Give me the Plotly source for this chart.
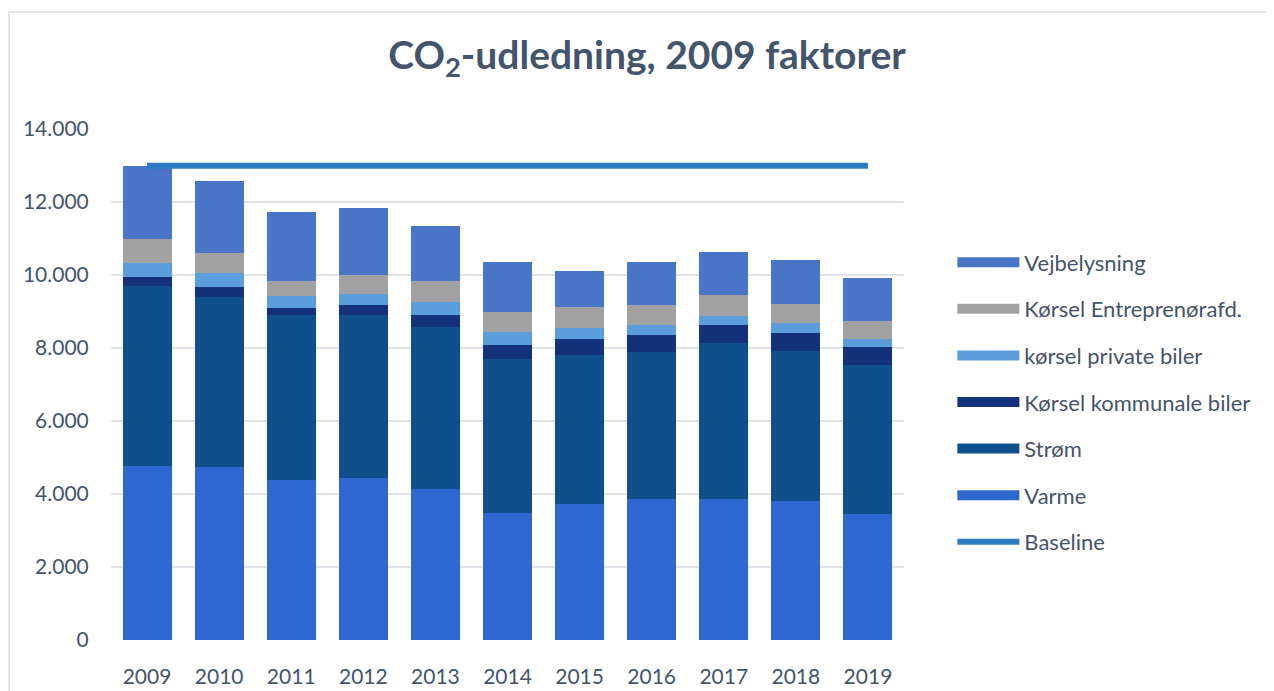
import plotly.graph_objects as go

years = ["2009", "2010", "2011", "2012", "2013", "2014", "2015", "2016", "2017", "2018", "2019"]
varme = [4760, 4740, 4380, 4440, 4140, 3480, 3720, 3860, 3860, 3810, 3450]
strom = [4940, 4660, 4520, 4460, 4440, 4220, 4090, 4030, 4280, 4110, 4080]
kommunale = [250, 270, 190, 280, 330, 380, 440, 470, 490, 490, 490]
private = [380, 380, 330, 300, 360, 360, 300, 270, 250, 270, 220]
entrepr = [660, 550, 410, 520, 570, 550, 580, 550, 570, 520, 490]
vejbelysning = [2000, 1970, 1890, 1840, 1500, 1370, 990, 1180, 1180, 1210, 1180]
baseline = [12990] * 11

series = [
    ("Varme", varme, "#2e67cf", 6),
    ("Strøm", strom, "#0f4f8c", 5),
    ("Kørsel kommunale biler", kommunale, "#13327a", 4),
    ("kørsel private biler", private, "#5c9ddc", 3),
    ("Kørsel Entreprenørafd.", entrepr, "#a2a2a2", 2),
    ("Vejbelysning", vejbelysning, "#4a74c8", 1),
]

font_family = "Lato, 'Open Sans', sans-serif"
text_color = "#44546a"
fig = go.Figure()
for name, vals, color, rank in series:
    fig.add_trace(go.Bar(
        x=years, y=vals, name=name, marker=dict(color=color, line=dict(width=0)),
        legendgroup=name, showlegend=False,
    ))
# legend keys drawn as wide bands, like the reference
for name, vals, color, rank in series:
    fig.add_trace(go.Scatter(
        x=[None], y=[None], name=name, mode="lines",
        line=dict(color=color, width=16), legendrank=rank, legendgroup=name,
        hoverinfo="skip",
    ))
fig.add_trace(go.Scatter(
    x=years, y=baseline, name="Baseline", mode="lines",
    line=dict(color="#2e7bc4", width=6), legendrank=7, legendgroup="Baseline",
))

fig.update_layout(
    barmode="stack",
    bargap=0.32,
    width=1274, height=691,
    separators=",.",
    paper_bgcolor="white", plot_bgcolor="white",
    margin=dict(l=103, r=378, t=121, b=59),
    title=dict(
        text="<b>CO<sub>2</sub>-udledning, 2009 faktorer</b>",
        x=0.5016, xref="container", xanchor="center", y=0.932, yanchor="middle",
        font=dict(family=font_family, size=39, color=text_color),
    ),
    font=dict(family=font_family, size=21, color=text_color),
    legend=dict(
        x=1.061, xanchor="left", y=0.78, yanchor="top",
        font=dict(size=22, color=text_color),
        tracegroupgap=15, itemwidth=62, bgcolor="rgba(0,0,0,0)",
    ),
    xaxis=dict(
        showgrid=False, showline=False, ticks="outside", ticklen=18,
        tickcolor="rgba(0,0,0,0)", tickfont=dict(size=21, color=text_color),
        automargin=False,
    ),
    yaxis=dict(
        range=[0, 14000], dtick=2000, tickformat=",d",
        showgrid=True, gridcolor="#dfe2e8", gridwidth=2,
        zeroline=False, showline=False,
        ticks="outside", ticklen=17, tickcolor="rgba(0,0,0,0)",
        tickfont=dict(size=21, color=text_color),
        automargin=False,
    ),
    shapes=[dict(
        type="rect", xref="paper", yref="paper",
        x0=-0.1286, x1=1.48, y0=-0.15, y1=1.229,
        line=dict(color="#d9dde4", width=1.5), layer="below",
    )],
)

fig.write_html("out.html")
